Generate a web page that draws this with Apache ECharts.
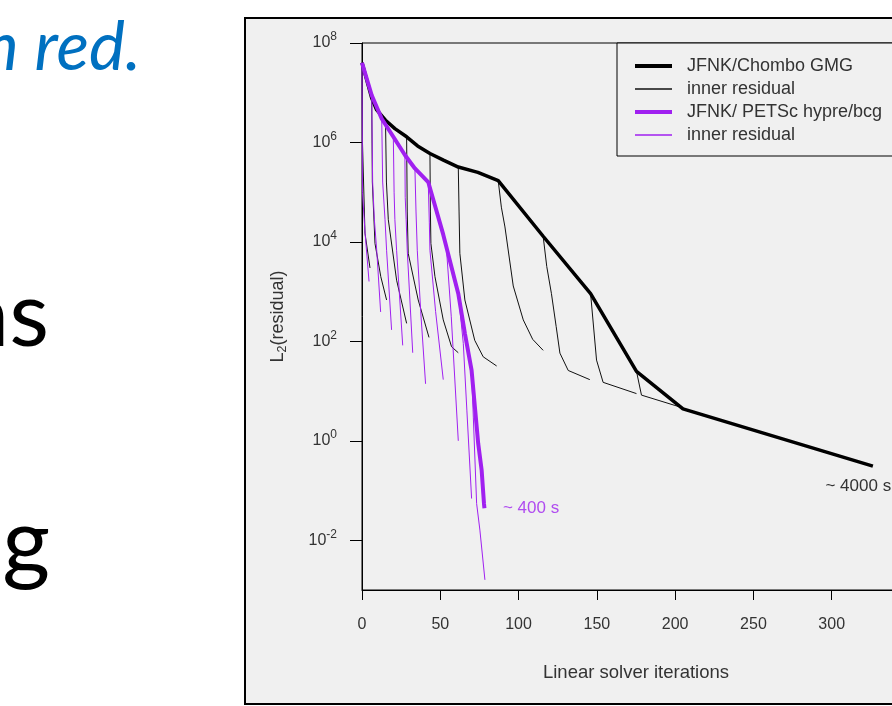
<!DOCTYPE html>
<html>
<head>
<meta charset="utf-8">
<script src="https://cdn.jsdelivr.net/npm/echarts@6/dist/echarts.min.js"></script>
<style>
  html, body { margin: 0; padding: 0; background: #fff; overflow: hidden; width: 892px; height: 706px; }
  /* canvas is wider than the window: the plot continues past the right edge */
  #main { width: 960px; height: 706px; }
</style>
</head>
<body>
<div id="main"></div>
<script>
// outer (Newton) residual history
const chomboIter = [0, 6.2, 9.4, 15, 21, 28.5, 35.5, 43.4, 52, 61.5, 74, 87, 115.7, 146, 175.3, 205, 326.3];
const chomboRes = [4.0e7, 7.8e6, 4.5e6, 2.8e6, 1.9e6, 1.3e6, 8.5e5, 6.0e5, 4.4e5, 3.2e5, 2.5e5, 1.7e5, 1.3e4, 910, 25, 4.4, 0.31];

const petscIter = [0, 6.2, 12.6, 20, 27.4, 33.8, 42.3, 51.9, 61.5, 65.7, 70, 72.1, 74.2, 76.4, 77.9, 78.2];
const petscRes = [4.0e7, 8.9e6, 3.0e6, 1.3e6, 5.6e5, 3.0e5, 1.6e5, 1.4e4, 910, 145, 26, 4.8, 0.89, 0.26, 0.055, 0.044];

// inner (linear) residual curves, one per Newton step
const chomboInnerIter = [
  [0, 0.3, 1.9, 5.1],
  [6.2, 6.6, 8.3, 12, 15.7],
  [15, 15.6, 16.8, 22.1, 28.5],
  [28.5, 28.9, 29.5, 35.9, 42.8],
  [43.4, 43.7, 44, 46.6, 51.9, 57.2, 61.5],
  [61.5, 62, 62.5, 65.7, 72, 77.4, 86],
  [87, 89, 91.3, 96.6, 103, 109, 115.7],
  [115.7, 118, 121, 124, 126.4, 131.7, 145.5],
  [146, 149.8, 154, 175.3],
  [175.3, 178.5, 203]
];
const chomboInnerRes = [
  [4.0e7, 1.0e6, 1.5e4, 3.0e3],
  [7.8e6, 1.6e5, 9.3e3, 2.0e3, 680],
  [2.8e6, 1.6e5, 2.8e4, 1.7e3, 230],
  [1.3e6, 4.0e4, 5.9e3, 680, 120],
  [6.0e5, 4.0e4, 9.3e3, 2.0e3, 270, 78, 59],
  [3.2e5, 4.0e4, 5.9e3, 680, 105, 49, 32],
  [1.7e5, 5.0e4, 2.0e4, 1.3e3, 270, 110, 66],
  [1.3e4, 3.2e3, 910, 200, 58, 26, 17],
  [910, 42, 15, 8.9],
  [25, 8.3, 4.8]
];

const petscInnerIter = [
  [0, 0.3, 1.9, 4.5],
  [6.2, 6.8, 7.9, 9.4, 11.9],
  [12.6, 13.2, 14.7, 15.7, 18.9],
  [20, 20.5, 21, 22.1, 26],
  [27.4, 27.6, 28.2, 28.9, 32.4],
  [33.8, 34.5, 35.3, 37.5, 40.6],
  [42.3, 43, 43.4, 47, 51.9],
  [51.9, 54, 57, 61.5],
  [61.5, 64.7, 67, 70],
  [70, 71.1, 73.2, 75.3, 78.5]
];
const petscInnerRes = [
  [4.0e7, 1.0e5, 1.6e4, 1.6e3],
  [8.9e6, 1.6e5, 2.8e4, 6.8e3, 390],
  [3.0e6, 1.6e5, 2.8e4, 6.8e3, 170],
  [1.3e6, 1.0e5, 2.8e4, 6.8e3, 83],
  [5.6e5, 7.9e4, 2.8e4, 6.8e3, 59],
  [3.0e5, 4.0e4, 6.8e3, 400, 14],
  [1.6e5, 2.5e4, 6.8e3, 400, 17],
  [1.4e4, 6.8e3, 320, 1.0],
  [910, 91, 4.0, 0.069],
  [26, 3.0, 0.055, 0.016, 0.0016]
];

const xTicks = [0, 50, 100, 150, 200, 250, 300, 350];
const yTicks = [1e-2, 1, 1e2, 1e4, 1e6, 1e8];

const BLACK = '#000000';
const PURPLE = '#A020F0';
const FONT = 'Liberation Sans, Arial, sans-serif';
const SLIDE_FONT = 'Lato, "DejaVu Sans", sans-serif';

const pairs = (xs, ys) => xs.map((x, i) => [x, ys[i]]);

const series = [];
chomboInnerIter.forEach((it, i) => {
  series.push({
    name: 'inner residual', type: 'line', symbol: 'none', z: 2,
    lineStyle: { color: '#111', width: 1 }, itemStyle: { color: '#111' },
    data: pairs(it, chomboInnerRes[i])
  });
});
series.push({
  name: 'JFNK/Chombo GMG', type: 'line', symbol: 'none', z: 3,
  lineStyle: { color: BLACK, width: 3.5 }, itemStyle: { color: BLACK },
  data: pairs(chomboIter, chomboRes),
  markPoint: {
    symbol: 'circle', symbolSize: 0, silent: true,
    label: { show: true, position: 'right', distance: 0, color: '#333', fontSize: 17, fontFamily: FONT, formatter: '~ 4000 s' },
    data: [{ coord: [296, 0.122] }]
  }
});
petscInnerIter.forEach((it, i) => {
  series.push({
    name: 'inner residual (petsc)', type: 'line', symbol: 'none', z: 4,
    lineStyle: { color: PURPLE, width: 1 }, itemStyle: { color: PURPLE },
    data: pairs(it, petscInnerRes[i])
  });
});
series.push({
  name: 'JFNK/ PETSc hypre/bcg', type: 'line', symbol: 'none', z: 5,
  lineStyle: { color: PURPLE, width: 4 }, itemStyle: { color: PURPLE },
  data: pairs(petscIter, petscRes),
  markPoint: {
    symbol: 'circle', symbolSize: 0, silent: true,
    label: { show: true, position: 'right', distance: 0, color: '#B04CF0', fontSize: 17, fontFamily: FONT, formatter: '~ 400 s' },
    data: [{ coord: [90, 0.044] }]
  }
});

const chart = echarts.init(document.getElementById('main'));
chart.setOption({
  animation: false,
  backgroundColor: '#ffffff',
  graphic: [
    { type: 'rect', z: -10, shape: { x: 245, y: 18, width: 760, height: 686 },
      style: { fill: '#f0f0f0', stroke: '#000', lineWidth: 2 } },
    { type: 'text', z: 10, style: { text: 'in red.', x: 141, y: 48, textAlign: 'right', textVerticalAlign: 'middle',
      font: 'italic 68px ' + SLIDE_FONT, fill: '#0070C0' } },
    { type: 'text', z: 10, style: { text: 'as', x: 49, y: 316, textAlign: 'right', textVerticalAlign: 'middle',
      font: '92px ' + SLIDE_FONT, fill: '#000' } },
    { type: 'text', z: 10, style: { text: 'g', x: 50, y: 543, textAlign: 'right', textVerticalAlign: 'middle',
      font: '92px ' + SLIDE_FONT, fill: '#000' } }
  ],
  legend: {
    orient: 'vertical', left: 617, top: 43,
    data: [
      { name: 'JFNK/Chombo GMG', lineStyle: { width: 4 } },
      { name: 'inner residual', lineStyle: { width: 1.3 } },
      { name: 'JFNK/ PETSc hypre/bcg', lineStyle: { width: 4 } },
      { name: 'inner residual (petsc)', lineStyle: { width: 1.3 } }
    ],
    formatter: name => name.replace(' (petsc)', ''),
    itemWidth: 37, itemHeight: 20, itemGap: 5,
    padding: [14, 30, 12, 16],
    itemStyle: { opacity: 0 },
    borderColor: '#000', borderWidth: 1, backgroundColor: '#f0f0f0',
    textStyle: { fontSize: 18, color: '#333', fontFamily: FONT, padding: [0, 0, 0, 10] }
  },
  grid: { left: 362, top: 43, width: 548, height: 547, show: true, borderColor: '#000', borderWidth: 1, backgroundColor: 'transparent' },
  xAxis: {
    type: 'value', min: 0, max: 350, interval: 50,
    name: 'Linear solver iterations', nameLocation: 'middle', nameGap: 73,
    nameTextStyle: { fontSize: 18.5, color: '#333', fontFamily: FONT },
    axisLine: { show: true, lineStyle: { color: '#000', width: 1 } },
    axisTick: { show: true, length: 10, lineStyle: { color: '#000' }, customValues: xTicks },
    axisLabel: { fontSize: 16, color: '#333', fontFamily: FONT, margin: 27, customValues: xTicks },
    splitLine: { show: false }
  },
  yAxis: {
    type: 'log', logBase: 10, min: 1e-3, max: 1e8,
    name: '{n|L}{s|2}{n|(residual)}', nameLocation: 'middle', nameGap: 73,
    nameTextStyle: { rich: {
      n: { fontSize: 18, color: '#333', fontFamily: FONT },
      s: { fontSize: 12.5, color: '#333', fontFamily: FONT, padding: [8, 0, 0, 0] }
    } },
    axisLine: { show: true, lineStyle: { color: '#000', width: 1 } },
    axisTick: { show: true, length: 12, lineStyle: { color: '#000' }, customValues: yTicks },
    axisLabel: {
      margin: 25, customValues: yTicks,
      formatter: v => '{b|10}{e|' + Math.round(Math.log10(v)) + '}',
      rich: {
        b: { fontSize: 16, color: '#333', fontFamily: FONT },
        e: { fontSize: 12, color: '#333', fontFamily: FONT, padding: [0, 0, 12, 0] }
      }
    },
    splitLine: { show: false },
    minorTick: { show: false }
  },
  series: series
});
</script>
</body>
</html>
